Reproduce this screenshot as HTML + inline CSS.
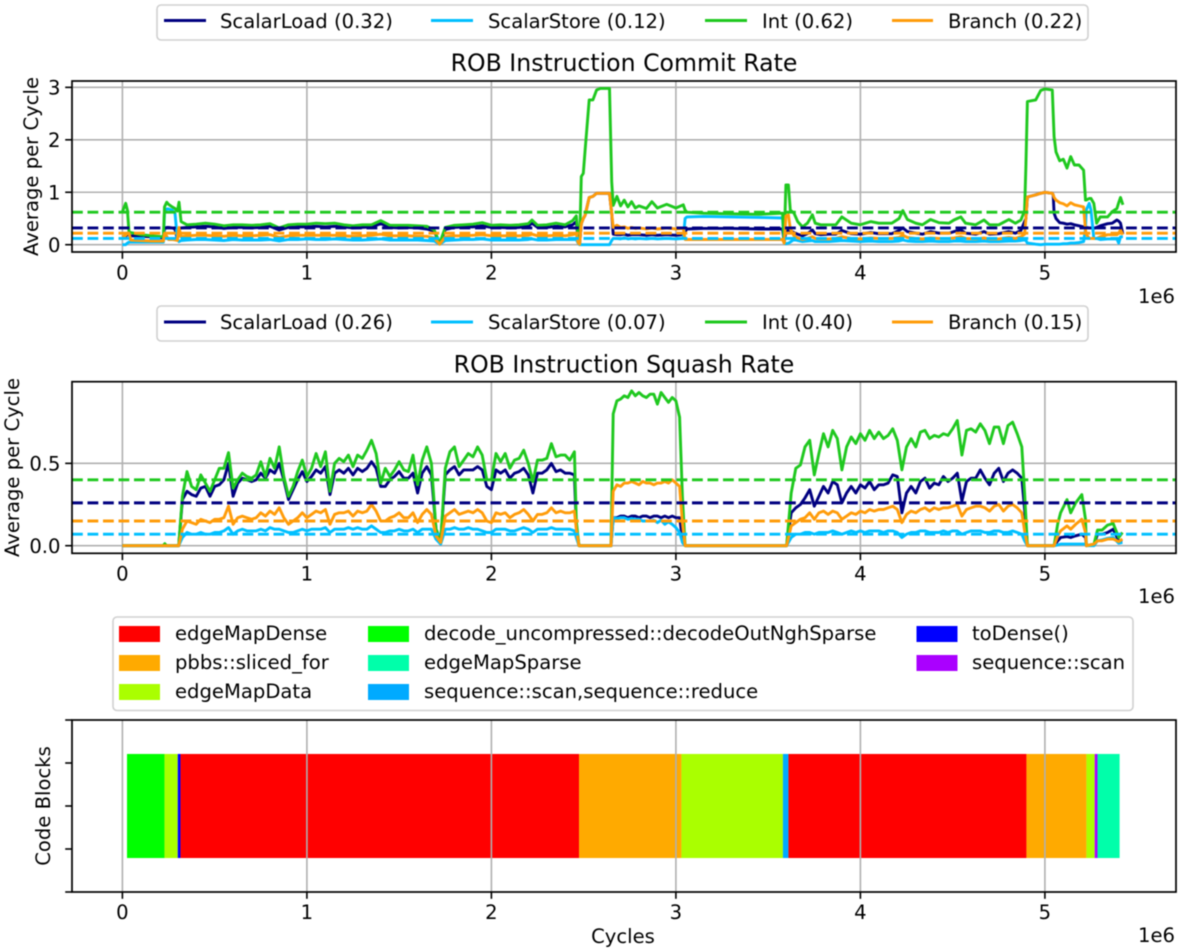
<!DOCTYPE html>
<html lang="en">
<head>
<meta charset="utf-8">
<title>ROB Instruction Rates</title>
<style>
html,body{margin:0;padding:0;background:#fff;overflow:hidden;}
svg{display:block;filter:blur(0.45px);}
text{font-family:"DejaVu Sans","Liberation Sans",sans-serif;font-size:19.6px;fill:#000;}
.title{font-size:23.6px;text-anchor:middle;}
.box{fill:#fff;stroke:#d0d0d0;stroke-width:1.6;}
.h{stroke-width:2.9;fill:none;}
</style>
</head>
<body>
<svg id="fig" xmlns="http://www.w3.org/2000/svg" width="1178" height="952" viewBox="0 0 1178 952">
  <g id="commit-layer"></g>
  <g id="squash-layer"></g>
  <g id="blocks-layer"></g>

  <g>
    <rect class="box" x="157" y="5" width="931" height="35" rx="4"/>
    <line class="h" x1="164" x2="206" y1="20.5" y2="20.5" stroke="#000080"/>
    <text x="220" y="28">ScalarLoad (0.32)</text>
    <line class="h" x1="431" x2="473" y1="20.5" y2="20.5" stroke="#00bfff"/>
    <text x="488" y="28">ScalarStore (0.12)</text>
    <line class="h" x1="705" x2="747" y1="20.5" y2="20.5" stroke="#1fc81f"/>
    <text x="762" y="28">Int (0.62)</text>
    <line class="h" x1="892" x2="933" y1="20.5" y2="20.5" stroke="#ff9c0a"/>
    <text x="948" y="28">Branch (0.22)</text>
  </g>
  <text class="title" x="624" y="71">ROB Instruction Commit Rate</text>
  <text transform="translate(38,166.5) rotate(-90)" text-anchor="middle">Average per Cycle</text>
  <text x="1175" y="303" text-anchor="end">1e6</text>

  <g>
    <rect class="box" x="157" y="306" width="931" height="35" rx="4"/>
    <line class="h" x1="164" x2="206" y1="322" y2="322" stroke="#000080"/>
    <text x="220" y="329">ScalarLoad (0.26)</text>
    <line class="h" x1="431" x2="473" y1="322" y2="322" stroke="#00bfff"/>
    <text x="488" y="329">ScalarStore (0.07)</text>
    <line class="h" x1="705" x2="747" y1="322" y2="322" stroke="#1fc81f"/>
    <text x="762" y="329">Int (0.40)</text>
    <line class="h" x1="892" x2="933" y1="322" y2="322" stroke="#ff9c0a"/>
    <text x="948" y="329">Branch (0.15)</text>
  </g>
  <text class="title" x="624" y="372.5">ROB Instruction Squash Rate</text>
  <text transform="translate(19,467.5) rotate(-90)" text-anchor="middle">Average per Cycle</text>
  <text x="1175" y="603" text-anchor="end">1e6</text>

  <g>
    <rect class="box" x="113" y="617" width="1020" height="93.5" rx="4"/>
    <rect x="119" y="626" width="41" height="16" fill="#ff0000"/>
    <text x="175" y="640">edgeMapDense</text>
    <rect x="119" y="655" width="41" height="16" fill="#ffaa00"/>
    <text x="175" y="669">pbbs::sliced_for</text>
    <rect x="119" y="684" width="41" height="16" fill="#aaff00"/>
    <text x="175" y="698">edgeMapData</text>
    <rect x="368" y="626" width="41" height="16" fill="#00ff00"/>
    <text x="424" y="640">decode_uncompressed::decodeOutNghSparse</text>
    <rect x="368" y="655" width="41" height="16" fill="#00ffaa"/>
    <text x="424" y="669">edgeMapSparse</text>
    <rect x="368" y="684" width="41" height="16" fill="#00aaff"/>
    <text x="424" y="698">sequence::scan,sequence::reduce</text>
    <rect x="916.5" y="626" width="41" height="16" fill="#0000ff"/>
    <text x="972" y="640">toDense()</text>
    <rect x="916.5" y="655" width="41" height="16" fill="#aa00ff"/>
    <text x="972" y="669">sequence::scan</text>
  </g>
  <text transform="translate(50,806) rotate(-90)" text-anchor="middle">Code Blocks</text>
  <text x="623" y="943" text-anchor="middle">Cycles</text>
  <text x="1175" y="942" text-anchor="end">1e6</text>
</svg>

<script>
// ---------- shared tick data (x in units of 1e6 cycles) ----------
const xTicks = [0, 1, 2, 3, 4, 5];
const xTickLabels = ['0', '1', '2', '3', '4', '5'];

// ---------- commit rate chart ----------
const commitYTicks = [0, 1, 2, 3];
const commitYLabels = ['0', '1', '2', '3'];
const commitMeanLoad = 0.32;
const commitMeanStore = 0.12;
const commitMeanInt = 0.62;
const commitMeanBranch = 0.22;

const commitCycles = [
 0,.018,.027,.036,.045,.10,.16,.222,.228,.24,.25,.27,.285,.298,.307,.318,
 .35,.40,.45,.50,.55,.60,.65,.70,.75,.80,.85,.90,.95,1.0,1.05,1.10,1.15,1.20,1.25,1.30,1.35,1.40,1.45,1.50,1.55,1.60,1.65,
 1.69,1.72,1.75,1.80,1.85,1.90,1.95,2.0,2.05,2.10,2.15,2.20,2.22,2.25,2.30,2.35,2.40,2.44,2.46,2.47,2.478,
 2.487,2.498,2.508,2.53,2.55,2.57,2.59,2.64,2.652,
 2.66,2.68,2.70,2.72,2.74,2.76,2.78,2.80,2.84,2.87,2.90,2.95,3.0,3.04,
 3.05,3.06,3.15,3.3,3.45,3.578,3.587,
 3.596,3.61,3.62,3.64,3.66,3.686,3.713,3.74,3.755,3.785,3.83,3.867,3.90,3.95,4.0,4.056,4.10,4.17,4.21,4.23,4.255,4.30,4.336,4.38,4.426,4.48,4.507,4.544,4.57,4.625,4.67,4.70,4.75,4.805,4.84,4.87,4.89,
 4.897,4.905,4.95,4.977,5.0,5.04,5.045,5.05,5.06,5.08,5.10,5.12,5.14,5.16,5.185,5.21,
 5.22,5.224,5.24,5.25,5.265,5.28,5.30,5.34,5.365,5.39,5.40,5.41,5.423
];
const commitLoad = [
 .15,.16,.2,.18,.17,.16,.15,.13,.30,.33,.33,.32,.30,.10,.30,.32,
 .33,.34,.35,.34,.31,.33,.33,.32,.33,.35,.28,.33,.34,.34,.35,.34,.35,.34,.32,.33,.34,.40,.33,.32,.33,.32,.30,
 .26,.02,.29,.33,.34,.34,.36,.33,.33,.32,.33,.35,.41,.33,.33,.35,.34,.38,.44,.10,.01,
 .40,.50,.56,.90,.92,.98,.98,.98,.6,
 .20,.19,.19,.20,.18,.19,.19,.19,.18,.19,.18,.19,.18,.19,
 .25,.30,.31,.31,.30,.30,.05,
 .25,.28,.27,.23,.20,.17,.21,.28,.21,.19,.20,.20,.27,.21,.20,.23,.21,.21,.27,.32,.25,.22,.20,.25,.22,.22,.25,.28,.22,.20,.25,.20,.21,.25,.22,.27,.44,
 .5,.91,.95,.98,1.0,.98,.95,.60,.50,.42,.41,.39,.40,.38,.36,.34,
 .33,.33,.32,.32,.31,.33,.36,.40,.41,.47,.45,.41,.20
];
const commitStore = [
 0,0,.03,.05,.05,.05,.05,.05,.60,.68,.68,.66,.60,.10,.06,.08,
 .09,.10,.10,.09,.08,.10,.09,.09,.09,.10,.07,.10,.10,.11,.10,.10,.11,.10,.09,.09,.10,.11,.09,.09,.09,.09,.08,
 .07,.01,.08,.09,.10,.10,.11,.09,.09,.09,.09,.10,.11,.09,.09,.10,.10,.10,.10,.03,0,
 0,0,0,0,0,0,0,0,.08,
 .12,.12,.11,.13,.11,.12,.11,.12,.11,.12,.11,.12,.11,.12,
 .50,.53,.54,.53,.52,.51,.03,
 .02,.03,.05,.10,.08,.06,.07,.08,.06,.06,.06,.07,.08,.07,.06,.07,.06,.06,.07,.09,.07,.06,.06,.07,.06,.06,.07,.07,.06,.06,.07,.06,.06,.07,.07,.08,.09,
 .08,.03,.01,0,.01,.01,.01,.01,.01,.01,.02,.02,.03,.03,.04,.06,
 .30,.66,.79,.66,.12,.12,.10,.11,.11,.11,.03,.15,.15
];
const commitInt = [
 .63,.79,.66,.25,.23,.19,.17,.15,.72,.81,.77,.72,.69,.64,.81,.44,
 .38,.39,.41,.39,.36,.38,.38,.37,.38,.40,.32,.38,.39,.39,.41,.40,.41,.38,.36,.38,.38,.46,.37,.37,.37,.36,.35,
 .28,.03,.33,.37,.38,.39,.42,.37,.38,.37,.38,.40,.47,.37,.38,.41,.38,.46,.55,.14,.02,
 1.30,1.36,1.80,2.76,2.76,2.95,2.98,2.98,1.2,
 .75,.92,.74,.85,.72,.82,.70,.74,.69,.82,.70,.77,.70,.76,
 .66,.62,.60,.59,.58,.60,.06,
 1.14,1.14,.66,.60,.44,.34,.41,.57,.41,.38,.38,.38,.53,.41,.38,.44,.41,.41,.50,.65,.48,.41,.38,.48,.42,.41,.47,.53,.41,.38,.47,.38,.38,.48,.41,.47,.65,
 1.5,2.73,2.76,2.94,2.97,2.95,2.5,2.06,1.77,1.60,1.63,1.46,1.68,1.52,1.52,1.42,
 .85,.85,.88,.88,.79,.41,.53,.53,.63,.69,.8,.90,.76
];
const commitBranch = [
 .15,.18,.22,.22,.09,.08,.07,.07,.22,.16,.10,.10,.09,.08,.33,.15,
 .17,.18,.18,.17,.16,.18,.17,.17,.18,.19,.14,.17,.18,.18,.18,.18,.18,.17,.16,.17,.18,.20,.17,.17,.17,.16,.16,
 .13,.01,.15,.17,.17,.18,.19,.17,.17,.17,.17,.18,.20,.17,.17,.18,.17,.19,.21,.04,.01,
 .40,.50,.56,.90,.92,.98,.98,.98,.6,
 .33,.37,.33,.34,.31,.33,.31,.32,.30,.32,.30,.32,.30,.31,
 .10,.10,.10,.10,.10,.10,.03,
 .55,.57,.30,.17,.13,.10,.12,.15,.12,.11,.11,.12,.15,.12,.11,.13,.12,.12,.14,.18,.14,.12,.11,.13,.12,.12,.13,.15,.12,.11,.13,.11,.11,.14,.12,.15,.20,
 .5,.91,.95,.98,1.0,.98,.95,.90,.85,.80,.78,.74,.80,.76,.74,.72,
 .28,.20,.12,.12,.12,.12,.15,.19,.19,.19,.22,.28,.19
];

// ---------- squash rate chart ----------
const squashYTicks = [0, 0.5];
const squashYLabels = ['0.0', '0.5'];
const squashMeanLoad = 0.26;
const squashMeanStore = 0.07;
const squashMeanInt = 0.40;
const squashMeanBranch = 0.15;

const squashCycles = [
 0,.22,.23,.24,.305,
 .325,.35,.375,.40,.425,.45,.475,.50,.525,.55,
 .575,.60,.625,.65,.675,.70,.725,.75,.775,.80,
 .825,.85,.875,.90,.925,.95,.975,1.0,1.025,1.05,
 1.075,1.10,1.125,1.15,1.175,1.20,1.225,1.25,1.275,1.30,
 1.325,1.35,1.375,1.40,1.425,1.45,1.475,1.50,1.525,1.55,
 1.575,1.60,1.625,1.65,1.675,1.70,1.725,1.75,1.775,1.80,
 1.825,1.85,1.875,1.90,1.925,1.95,1.975,2.0,2.025,2.05,
 2.075,2.10,2.125,2.15,2.175,2.20,2.225,2.25,2.275,2.30,
 2.325,2.35,2.375,2.40,2.425,2.45,
 2.46,2.475,
 2.648,2.66,2.68,2.70,2.72,2.74,2.76,2.78,2.80,2.82,2.84,2.86,2.88,2.90,2.92,2.94,2.96,2.98,3.0,3.02,3.035,3.05,
 3.6,
 3.625,3.65,3.675,3.70,3.725,3.75,3.775,3.80,3.825,3.85,
 3.875,3.90,3.925,3.95,3.975,4.0,4.025,4.05,4.075,4.10,
 4.125,4.15,4.175,4.20,4.225,4.25,4.275,4.30,4.325,4.35,
 4.375,4.40,4.425,4.45,4.475,4.50,4.525,4.55,4.575,4.60,
 4.625,4.65,4.675,4.70,4.725,4.75,4.775,4.80,4.825,4.85,
 4.875,
 4.89,4.905,
 5.05,5.07,5.085,5.12,5.14,5.167,5.20,5.22,5.225,5.266,5.285,5.31,5.34,5.37,5.40,5.42
];
const squashLoad = [
 0,0,0,0,0,
 .28,.33,.31,.30,.35,.36,.30,.36,.37,.40,
 .50,.30,.38,.41,.40,.39,.40,.44,.41,.46,
 .44,.50,.40,.28,.34,.40,.45,.39,.42,.46,
 .44,.48,.31,.44,.46,.44,.47,.43,.47,.45,
 .47,.51,.47,.36,.36,.40,.42,.45,.41,.41,
 .44,.32,.44,.48,.43,.10,.03,.43,.46,.48,
 .43,.46,.46,.46,.48,.46,.36,.34,.46,.44,
 .46,.41,.44,.45,.47,.43,.32,.44,.44,.46,
 .50,.45,.46,.44,.44,.43,
 .12,0,
 0,.17,.17,.18,.18,.17,.18,.18,.17,.18,.18,.17,.18,.18,.17,.18,.17,.18,.17,.17,.04,0,
 0,
 .20,.23,.25,.29,.34,.24,.30,.36,.32,.39,
 .37,.26,.32,.36,.32,.37,.35,.39,.34,.37,
 .37,.38,.43,.42,.20,.32,.36,.32,.39,.41,
 .35,.38,.37,.42,.39,.41,.44,.27,.39,.41,
 .41,.46,.41,.37,.44,.47,.39,.44,.46,.44,
 .41,
 .22,0,
 0,.03,.05,.055,.05,.06,.07,.05,0,.005,.07,.07,.08,.10,.03,.03
];
const squashStore = [
 0,0,0,0,0,
 .05,.08,.07,.07,.08,.07,.07,.08,.08,.09,
 .11,.07,.09,.10,.09,.09,.09,.10,.09,.11,
 .10,.10,.09,.08,.08,.09,.10,.09,.10,.10,
 .10,.11,.08,.10,.10,.10,.11,.10,.11,.10,
 .10,.12,.10,.08,.08,.09,.09,.10,.09,.09,
 .10,.08,.10,.10,.10,.04,.01,.10,.10,.11,
 .10,.10,.11,.10,.10,.09,.08,.08,.10,.10,
 .10,.09,.09,.10,.11,.10,.08,.10,.10,.10,
 .11,.10,.10,.10,.10,.09,
 .05,0,
 0,.17,.165,.17,.17,.16,.165,.16,.16,.15,.15,.15,.155,.14,.155,.13,.145,.13,.11,.08,.02,0,
 0,
 .05,.07,.07,.08,.08,.07,.08,.08,.08,.09,
 .08,.07,.08,.09,.08,.09,.08,.09,.09,.09,
 .08,.09,.09,.08,.05,.07,.08,.08,.09,.09,
 .08,.08,.08,.09,.08,.09,.09,.07,.08,.09,
 .09,.09,.08,.08,.09,.09,.08,.08,.09,.08,
 .07,
 .03,0,
 0,.005,.01,.01,.01,.01,.01,.01,0,0,.03,.035,.045,.05,.015,.02
];
const squashInt = [
 0,0,.012,0,0,
 .30,.45,.36,.34,.43,.38,.33,.40,.47,.47,
 .565,.35,.40,.44,.42,.41,.43,.51,.42,.53,
 .47,.60,.42,.30,.36,.45,.52,.42,.47,.56,
 .48,.57,.33,.50,.53,.51,.55,.48,.55,.53,
 .58,.64,.56,.38,.47,.42,.46,.51,.46,.45,
 .55,.37,.52,.60,.50,.10,.03,.47,.57,.60,
 .48,.52,.56,.54,.60,.55,.40,.40,.56,.51,
 .56,.47,.52,.53,.58,.50,.39,.52,.52,.53,
 .62,.54,.55,.55,.52,.57,
 .15,0,
 0,.80,.88,.89,.91,.90,.94,.91,.93,.91,.90,.92,.92,.86,.93,.90,.87,.90,.88,.78,.30,0,
 0,
 .32,.47,.49,.60,.64,.43,.56,.68,.60,.70,
 .65,.46,.60,.66,.62,.68,.64,.70,.65,.69,
 .65,.67,.71,.64,.46,.60,.65,.60,.69,.70,
 .65,.67,.66,.68,.67,.71,.76,.55,.70,.71,
 .69,.74,.70,.62,.72,.72,.62,.73,.75,.68,
 .60,
 .32,0,
 0,.135,.20,.28,.20,.26,.31,.16,0,.01,.095,.095,.125,.135,.05,.08
];
const squashBranch = [
 0,0,0,0,0,
 .10,.15,.14,.13,.16,.15,.14,.16,.16,.17,
 .24,.13,.17,.18,.17,.16,.17,.20,.18,.21,
 .19,.23,.17,.13,.15,.17,.20,.17,.19,.21,
 .20,.22,.13,.19,.20,.20,.21,.18,.21,.20,
 .21,.25,.21,.15,.15,.17,.18,.20,.17,.17,
 .20,.14,.19,.22,.19,.06,.02,.18,.20,.22,
 .19,.20,.21,.20,.22,.20,.15,.14,.20,.19,
 .20,.17,.19,.20,.22,.19,.15,.19,.19,.20,
 .23,.20,.21,.20,.20,.21,
 .10,0,
 0,.33,.37,.36,.38,.38,.39,.38,.37,.39,.38,.38,.37,.38,.38,.39,.38,.40,.38,.36,.14,0,
 0,
 .12,.14,.16,.17,.20,.16,.20,.21,.19,.21,
 .20,.16,.18,.20,.19,.21,.20,.22,.21,.22,
 .22,.23,.24,.22,.14,.19,.21,.20,.22,.23,
 .21,.23,.22,.23,.23,.24,.25,.18,.22,.23,
 .24,.24,.23,.21,.24,.25,.21,.24,.25,.23,
 .20,
 .09,0,
 0,.06,.09,.12,.10,.13,.16,.08,0,.01,.03,.03,.04,.04,.025,.04
];

// ---------- code blocks chart ----------
const blockNames = ['decode', 'edgeMapData', 'toDense', 'edgeMapDense', 'sliced_for', 'edgeMapData', 'scan_reduce', 'edgeMapDense', 'sliced_for', 'edgeMapData', 'scan', 'edgeMapSparse'];
const blockStarts = [.025, .228, .30, .315, 2.475, 3.03, 3.58, 3.61, 4.90, 5.225, 5.27, 5.285];
const blockEnds = [.228, .30, .315, 2.475, 3.03, 3.58, 3.61, 4.90, 5.225, 5.27, 5.285, 5.405];
const blockYTicks = [-1, 0, 1, 2, 3];

// ---------- scales and style ----------
const blockColor = {decode:'#00ff00', edgeMapData:'#aaff00', toDense:'#0000ff', edgeMapDense:'#ff0000', sliced_for:'#ffaa00', scan_reduce:'#00aaff', scan:'#aa00ff', edgeMapSparse:'#00ffaa'};
const NAVY = '#000080', SKY = '#00bfff', GREEN = '#1fc81f', ORANGE = '#ff9c0a';
const AX_L = 72, AX_R = 1176;
function xScale(c) { return 122.4 + 184.5 * c; }
function yCommit(v) { return 244.7 - 52.45 * v; }
function ySquash(v) { return 545.7 - 164.7 * v; }
function yBlock(v) { return 849 - 43 * v; }

const SVGNS = 'http://www.w3.org/2000/svg';
function make(parent, tag, attrs, txt) {
  const el = document.createElementNS(SVGNS, tag);
  for (const k in attrs) el.setAttribute(k, attrs[k]);
  if (txt !== undefined) el.textContent = txt;
  parent.appendChild(el);
  return el;
}
function seriesPath(parent, xs, ys, yFn, color, name) {
  let d = '';
  for (let i = 0; i < xs.length; i++) {
    d += (i ? 'L' : 'M') + xScale(xs[i]).toFixed(1) + ' ' + yFn(ys[i]).toFixed(1);
  }
  const el = make(parent, 'path', {d: d, fill: 'none', stroke: color, 'stroke-width': 2.9, 'stroke-linejoin': 'round'});
  
  
}
function meanLine(parent, value, yFn, color, name) {
  const el = make(parent, 'line', {x1: AX_L, x2: AX_R, y1: yFn(value), y2: yFn(value), stroke: color, 'stroke-width': 2.9, 'stroke-dasharray': '10.8 4.7'});
  
  
}
function verticalGrid(parent, top, bottom) {
  xTicks.forEach(function (t) {
    const el = make(parent, 'line', {x1: xScale(t), x2: xScale(t), y1: top, y2: bottom, stroke: '#b0b0b0', 'stroke-width': 1.6});
    
    
  });
}
function horizontalGrid(parent, ticks, yFn) {
  ticks.forEach(function (t) {
    const el = make(parent, 'line', {x1: AX_L, x2: AX_R, y1: yFn(t), y2: yFn(t), stroke: '#b0b0b0', 'stroke-width': 1.6});
    
    
  });
}
function xAxis(parent, bottom, baseline) {
  xTicks.forEach(function (t, i) {
    const tick = make(parent, 'line', {x1: xScale(t), x2: xScale(t), y1: bottom, y2: bottom + 6.8, stroke: '#000', 'stroke-width': 1.6});
    
    
    const label = make(parent, 'text', {x: xScale(t), y: baseline, 'text-anchor': 'middle'}, xTickLabels[i]);
    
    
  });
}
function yAxis(parent, ticks, labels, yFn) {
  ticks.forEach(function (t, i) {
    const tick = make(parent, 'line', {x1: AX_L - 6.8, x2: AX_L, y1: yFn(t), y2: yFn(t), stroke: '#000', 'stroke-width': 1.6});
    
    
    if (labels) {
      const label = make(parent, 'text', {x: 60.5, y: yFn(t) + 7.2, 'text-anchor': 'end'}, labels[i]);
      
      
    }
  });
}
function frame(parent, top, bottom, name) {
  const el = make(parent, 'rect', {x: AX_L, y: top, width: AX_R - AX_L, height: bottom - top, fill: 'none', stroke: '#000', 'stroke-width': 1.7});
  
  
}

// ---------- commit ----------
const cg = document.getElementById('commit-layer');
verticalGrid(cg, 81, 252);
horizontalGrid(cg, commitYTicks, yCommit);
seriesPath(cg, commitCycles, commitLoad, yCommit, NAVY, 'commit-scalarload-line');
seriesPath(cg, commitCycles, commitStore, yCommit, SKY, 'commit-scalarstore-line');
seriesPath(cg, commitCycles, commitInt, yCommit, GREEN, 'commit-int-line');
seriesPath(cg, commitCycles, commitBranch, yCommit, ORANGE, 'commit-branch-line');
meanLine(cg, commitMeanLoad, yCommit, NAVY, 'commit-scalarload-mean');
meanLine(cg, commitMeanStore, yCommit, SKY, 'commit-scalarstore-mean');
meanLine(cg, commitMeanInt, yCommit, GREEN, 'commit-int-mean');
meanLine(cg, commitMeanBranch, yCommit, ORANGE, 'commit-branch-mean');
xAxis(cg, 252, 279.5);
yAxis(cg, commitYTicks, commitYLabels, yCommit);
frame(cg, 81, 252, 'commit-axes-frame');

// ---------- squash ----------
const sg = document.getElementById('squash-layer');
verticalGrid(sg, 381.7, 553.3);
horizontalGrid(sg, squashYTicks, ySquash);
seriesPath(sg, squashCycles, squashLoad, ySquash, NAVY, 'squash-scalarload-line');
seriesPath(sg, squashCycles, squashStore, ySquash, SKY, 'squash-scalarstore-line');
seriesPath(sg, squashCycles, squashInt, ySquash, GREEN, 'squash-int-line');
seriesPath(sg, squashCycles, squashBranch, ySquash, ORANGE, 'squash-branch-line');
meanLine(sg, squashMeanLoad, ySquash, NAVY, 'squash-scalarload-mean');
meanLine(sg, squashMeanStore, ySquash, SKY, 'squash-scalarstore-mean');
meanLine(sg, squashMeanInt, ySquash, GREEN, 'squash-int-mean');
meanLine(sg, squashMeanBranch, ySquash, ORANGE, 'squash-branch-mean');
xAxis(sg, 553.3, 580.5);
yAxis(sg, squashYTicks, squashYLabels, ySquash);
frame(sg, 381.7, 553.3, 'squash-axes-frame');

// ---------- code blocks ----------
const bg = document.getElementById('blocks-layer');
blockNames.forEach(function (n, i) {
  const x0 = xScale(blockStarts[i]);
  const x1 = xScale(blockEnds[i]);
  const el = make(bg, 'rect', {x: x0, y: yBlock(2.21), width: x1 - x0, height: yBlock(-0.21) - yBlock(2.21), fill: blockColor[n]});
  
  
});
verticalGrid(bg, 720, 892);
xAxis(bg, 892, 919);
yAxis(bg, blockYTicks, null, yBlock);
frame(bg, 720, 892, 'code-blocks-axes-frame');
</script>
</body>
</html>
